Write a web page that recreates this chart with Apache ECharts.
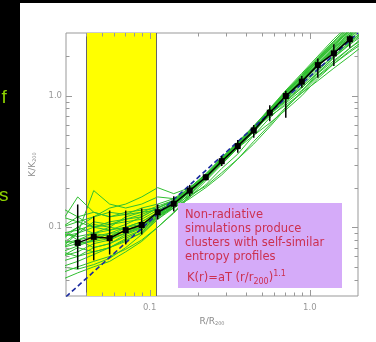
<!DOCTYPE html>
<html><head><meta charset="utf-8">
<script src="https://cdn.jsdelivr.net/npm/echarts@6/dist/echarts.min.js"></script>
<style>html,body{margin:0;padding:0;background:#000;}#c{width:376px;height:342px;}</style>
</head><body><div id="c"></div>
<script>
// radius sampling of the simulated profiles (R/R200)
const profileR = [0.0282,0.0355,0.0447,0.0562,0.0708,0.0891,0.1122,0.1413,0.1778,0.2239,0.2818,0.3548,0.4467,0.5623,0.7079,0.8913,1.122,1.413,1.778,2.239];
// individual cluster entropy profiles K/K200
const profiles = [
 [0.11,0.17,0.13,0.12,0.125,0.13,0.145,0.16,0.195,0.245,0.33,0.43,0.57,0.78,1.04,1.38,1.85,2.45,3.2,4.0],
 [0.08,0.10,0.12,0.14,0.15,0.17,0.20,0.18,0.20,0.25,0.33,0.44,0.58,0.79,1.08,1.45,1.95,2.6,3.4,4.3],
 [0.07,0.09,0.19,0.15,0.14,0.15,0.17,0.165,0.19,0.235,0.31,0.40,0.53,0.72,0.95,1.22,1.6,2.0,2.55,3.2],
 [0.045,0.05,0.055,0.06,0.068,0.08,0.10,0.13,0.175,0.235,0.315,0.42,0.55,0.75,1.0,1.32,1.75,2.3,3.0,3.8],
 [0.05,0.048,0.052,0.058,0.07,0.088,0.115,0.145,0.185,0.24,0.32,0.42,0.56,0.76,1.02,1.35,1.82,2.4,3.1,3.9],
 [0.09,0.085,0.09,0.095,0.10,0.11,0.13,0.15,0.19,0.24,0.32,0.42,0.55,0.75,0.98,1.26,1.66,2.15,2.75,3.5],
 [0.065,0.072,0.08,0.09,0.092,0.10,0.125,0.15,0.19,0.245,0.325,0.43,0.57,0.77,1.05,1.40,1.9,2.55,3.3,4.2],
 [0.075,0.08,0.09,0.085,0.10,0.11,0.13,0.145,0.175,0.205,0.26,0.33,0.45,0.60,0.82,1.05,1.40,1.75,2.2,2.7],
 [0.06,0.065,0.075,0.08,0.09,0.10,0.125,0.15,0.185,0.235,0.31,0.40,0.50,0.62,0.78,1.0,1.35,1.75,2.15,2.6],
 [0.10,0.11,0.10,0.105,0.11,0.115,0.135,0.155,0.195,0.25,0.33,0.44,0.58,0.79,1.06,1.42,1.92,2.6,3.4,4.3],
 [0.055,0.06,0.07,0.075,0.085,0.095,0.12,0.145,0.185,0.235,0.31,0.41,0.54,0.72,0.92,1.15,1.48,1.85,2.3,2.8],
 [0.085,0.09,0.10,0.11,0.115,0.12,0.14,0.16,0.20,0.25,0.335,0.44,0.585,0.8,1.1,1.48,2.0,2.7,3.5,4.4],
 [0.04,0.045,0.05,0.055,0.065,0.078,0.10,0.128,0.17,0.225,0.30,0.40,0.53,0.72,0.96,1.26,1.68,2.2,2.85,3.6],
 [0.08,0.075,0.08,0.085,0.095,0.10,0.12,0.14,0.17,0.21,0.28,0.36,0.50,0.68,0.88,1.1,1.42,1.8,2.3,2.9],
 [0.07,0.075,0.078,0.082,0.09,0.10,0.13,0.155,0.195,0.25,0.33,0.43,0.56,0.76,1.02,1.33,1.78,2.35,3.0,3.8],
 [0.12,0.11,0.12,0.13,0.125,0.14,0.15,0.165,0.20,0.25,0.33,0.435,0.575,0.78,1.05,1.39,1.86,2.45,3.15,4.0],
 [0.09,0.095,0.105,0.10,0.095,0.105,0.125,0.15,0.19,0.24,0.315,0.41,0.55,0.70,0.85,1.05,1.30,1.62,2.0,2.5],
 [0.06,0.07,0.065,0.07,0.08,0.09,0.115,0.14,0.18,0.23,0.305,0.40,0.535,0.73,0.99,1.29,1.72,2.25,2.9,3.7],
 [0.07,0.08,0.085,0.09,0.10,0.105,0.125,0.14,0.165,0.20,0.25,0.33,0.43,0.58,0.80,1.08,1.48,1.95,2.5,3.1],
 [0.10,0.12,0.13,0.12,0.13,0.135,0.14,0.16,0.195,0.245,0.325,0.43,0.565,0.77,1.04,1.37,1.84,2.42,3.1,3.9],
 [0.065,0.06,0.065,0.07,0.078,0.092,0.118,0.148,0.188,0.24,0.32,0.42,0.555,0.75,1.0,1.31,1.75,2.28,2.95,3.7],
 [0.14,0.12,0.10,0.095,0.105,0.12,0.14,0.158,0.193,0.245,0.325,0.425,0.56,0.72,0.9,1.15,1.5,1.95,2.45,3.0],
 [0.05,0.055,0.062,0.07,0.082,0.095,0.12,0.147,0.186,0.238,0.318,0.418,0.55,0.74,0.99,1.28,1.70,2.2,2.8,3.5],
 [0.085,0.10,0.09,0.10,0.12,0.13,0.135,0.155,0.19,0.24,0.32,0.42,0.55,0.72,0.93,1.18,1.55,2.0,2.6,3.2],
 [0.075,0.09,0.11,0.105,0.115,0.125,0.14,0.16,0.20,0.255,0.34,0.445,0.59,0.8,1.07,1.43,1.9,2.5,3.2,4.0],
 [0.095,0.08,0.07,0.075,0.088,0.098,0.122,0.15,0.19,0.243,0.322,0.425,0.56,0.76,1.01,1.3,1.7,2.15,2.7,3.3]
];
// mean profile with scatter
const meanR = [0.0355,0.0447,0.0562,0.0708,0.0891,0.1122,0.1413,0.1778,0.2239,0.2818,0.3548,0.4467,0.5623,0.7079,0.8913,1.122,1.413,1.778];
const meanK = [0.076,0.0845,0.0825,0.095,0.104,0.130,0.151,0.190,0.240,0.318,0.414,0.544,0.743,0.995,1.28,1.71,2.10,2.69];
const errLo = [0.048,0.056,0.062,0.074,0.088,0.115,0.132,0.172,0.228,0.292,0.369,0.48,0.641,0.68,1.15,1.37,1.68,2.32];
const errHi = [0.149,0.121,0.134,0.134,0.139,0.149,0.172,0.210,0.253,0.348,0.460,0.60,0.845,1.09,1.41,1.92,2.46,2.89];
// self-similar K ∝ r^1.1 reference line
const selfSimR = [0.03, 2.0];
const selfSimK = [0.0296, 3.0];
// shaded (yellow) radial range
const bandR = [0.04, 0.11];
// axes
const xRange = [0.03, 2];
const yRange = [0.03, 3];
const xMajor = [0.1, 1];
const xMinor = [0.04,0.05,0.06,0.07,0.08,0.09,0.2,0.3,0.4,0.5,0.6,0.7,0.8,0.9];
const yMajor = [0.1, 1];
const yMinor = [0.04,0.05,0.06,0.07,0.08,0.09,0.2,0.3,0.4,0.5,0.6,0.7,0.8,0.9,2];
const tickLabels = {0.1: '0.1', 1: '1.0'};

const tickData = [];
xMajor.forEach(v => tickData.push([v, 0.1, 0, 1]));
xMinor.forEach(v => tickData.push([v, 0.1, 0, 0]));
yMajor.forEach(v => tickData.push([0.1, v, 1, 1]));
yMinor.forEach(v => tickData.push([0.1, v, 1, 0]));

function fmt(v) {
  for (const k in tickLabels) { if (Math.abs(v - Number(k)) < 1e-6) return tickLabels[k]; }
  return '';
}

const FONT = '"DejaVu Sans", Verdana, sans-serif';
const series = [];
series.push({
  type: 'line', data: [], silent: true,
  markArea: { silent: true, itemStyle: { color: '#ffff00' },
    data: [[{ xAxis: bandR[0] }, { xAxis: bandR[1] }]] },
  markLine: { silent: true, symbol: 'none', label: { show: false },
    lineStyle: { color: '#666', width: 1, type: 'solid' },
    data: [{ xAxis: bandR[0] }, { xAxis: bandR[1] }] },
  z: 1
});
profiles.forEach(p => {
  series.push({
    type: 'line', data: profileR.map((r, i) => [r, p[i]]), symbol: 'none', silent: true,
    lineStyle: { color: '#2fbf2f', width: 1 }, z: 3, clip: true
  });
});
series.push({
  type: 'line', data: selfSimR.map((r, i) => [r, selfSimK[i]]), symbol: 'none', silent: true,
  lineStyle: { color: '#1a2a9e', width: 1.6, type: [5, 3] }, z: 5, clip: true
});
series.push({
  type: 'custom', silent: true, z: 6,
  data: meanR.map((r, i) => [r, errLo[i], errHi[i]]),
  encode: { x: 0, y: [1, 2] },
  renderItem: (params, api) => {
    const a = api.coord([api.value(0), api.value(1)]);
    const b = api.coord([api.value(0), api.value(2)]);
    return { type: 'line', shape: { x1: a[0], y1: a[1], x2: b[0], y2: b[1] },
      style: { stroke: '#000', lineWidth: 1.5 } };
  }
});
series.push({
  type: 'line', data: meanR.map((r, i) => [r, meanK[i]]), symbol: 'rect', symbolSize: 6,
  itemStyle: { color: '#000' }, lineStyle: { color: '#000', width: 1.5 }, z: 7, silent: true
});
series.push({
  type: 'custom', silent: true, z: 8,
  data: tickData, encode: { x: 0, y: 1 },
  renderItem: (params, api) => {
    const v0 = api.value(0), v1 = api.value(1), ax = api.value(2), maj = api.value(3);
    const L = maj ? 6 : 3.5;
    const st = { stroke: '#999', lineWidth: 1 };
    if (ax === 0) {
      const p = api.coord([v0, yRange[0]]), q = api.coord([v0, yRange[1]]);
      const x = Math.round(p[0]) + 0.5;
      return { type: 'group', children: [
        { type: 'line', shape: { x1: x, y1: p[1], x2: x, y2: p[1] - L }, style: st },
        { type: 'line', shape: { x1: x, y1: q[1], x2: x, y2: q[1] + L }, style: st } ] };
    } else {
      const p = api.coord([xRange[0], v1]), q = api.coord([xRange[1], v1]);
      const y = Math.round(p[1]) + 0.5;
      return { type: 'group', children: [
        { type: 'line', shape: { x1: p[0], y1: y, x2: p[0] + L, y2: y }, style: st },
        { type: 'line', shape: { x1: q[0], y1: y, x2: q[0] - L, y2: y }, style: st } ] };
    }
  }
});

const chart = echarts.init(document.getElementById('c'));
chart.setOption({
  backgroundColor: '#000',
  animation: false,
  grid: { left: 66, right: 18, top: 33, bottom: 46, show: true, borderColor: '#999', borderWidth: 1, backgroundColor: 'transparent' },
  xAxis: {
    type: 'log', logBase: 10, min: xRange[0], max: xRange[1],
    axisLine: { show: false }, axisTick: { show: false }, splitLine: { show: false },
    axisLabel: { formatter: fmt, color: '#999', fontSize: 8.5, fontFamily: FONT, margin: 7, showMinLabel: false, showMaxLabel: false },
    name: '{a|R/R}{b|200}', nameLocation: 'middle', nameGap: 19,
    nameTextStyle: { rich: { a: { color: '#888', fontSize: 9, fontFamily: FONT }, b: { color: '#888', fontSize: 5, fontFamily: FONT, verticalAlign: 'bottom', padding: [4, 0, 0, 0] } } }
  },
  yAxis: {
    type: 'log', logBase: 10, min: yRange[0], max: yRange[1],
    axisLine: { show: false }, axisTick: { show: false }, splitLine: { show: false },
    axisLabel: { formatter: fmt, color: '#999', fontSize: 8.5, fontFamily: FONT, margin: 4, showMinLabel: false, showMaxLabel: false },
    name: '{a|K/K}{b|200}', nameLocation: 'middle', nameGap: 22,
    nameTextStyle: { rich: { a: { color: '#888', fontSize: 9, fontFamily: FONT }, b: { color: '#888', fontSize: 5, fontFamily: FONT, verticalAlign: 'bottom', padding: [4, 0, 0, 0] } } }
  },
  graphic: [
    { type: 'rect', z: -100, silent: true, shape: { x: 20, y: 3, width: 356, height: 339 }, style: { fill: '#fff' } },
    { type: 'text', z: 100, silent: true, x: 1.5, y: 98, style: { text: 'f', fill: '#8fd400', fontSize: 19, fontFamily: '"Liberation Sans", Arial, sans-serif', verticalAlign: 'middle' } },
    { type: 'text', z: 100, silent: true, x: -1, y: 196, style: { text: 's', fill: '#8fd400', fontSize: 19, fontFamily: '"Liberation Sans", Arial, sans-serif', verticalAlign: 'middle' } },
    { type: 'rect', z: 100, silent: true, shape: { x: 178, y: 203, width: 164, height: 85 }, style: { fill: '#d5abf9' } },
    { type: 'text', z: 101, silent: true, x: 185, y: 208, style: {
        text: 'Non-radiative\nsimulations produce\nclusters with self-similar\nentropy profiles',
        fill: '#cc3050', fontSize: 11.5, fontFamily: FONT, lineHeight: 14 } },
    { type: 'text', z: 101, silent: true, x: 187, y: 278, style: {
        text: '{n|K(r)=aT (r/r}{s|200}{n|)}{p|1.1}', verticalAlign: 'middle',
        rich: {
          n: { fill: '#cc3050', fontSize: 11.5, fontFamily: FONT, lineHeight: 16 },
          s: { fill: '#cc3050', fontSize: 8, fontFamily: FONT, lineHeight: 16, verticalAlign: 'bottom' },
          p: { fill: '#cc3050', fontSize: 8, fontFamily: FONT, lineHeight: 16, verticalAlign: 'top' }
        } } }
  ],
  series: series
});
</script></body></html>
